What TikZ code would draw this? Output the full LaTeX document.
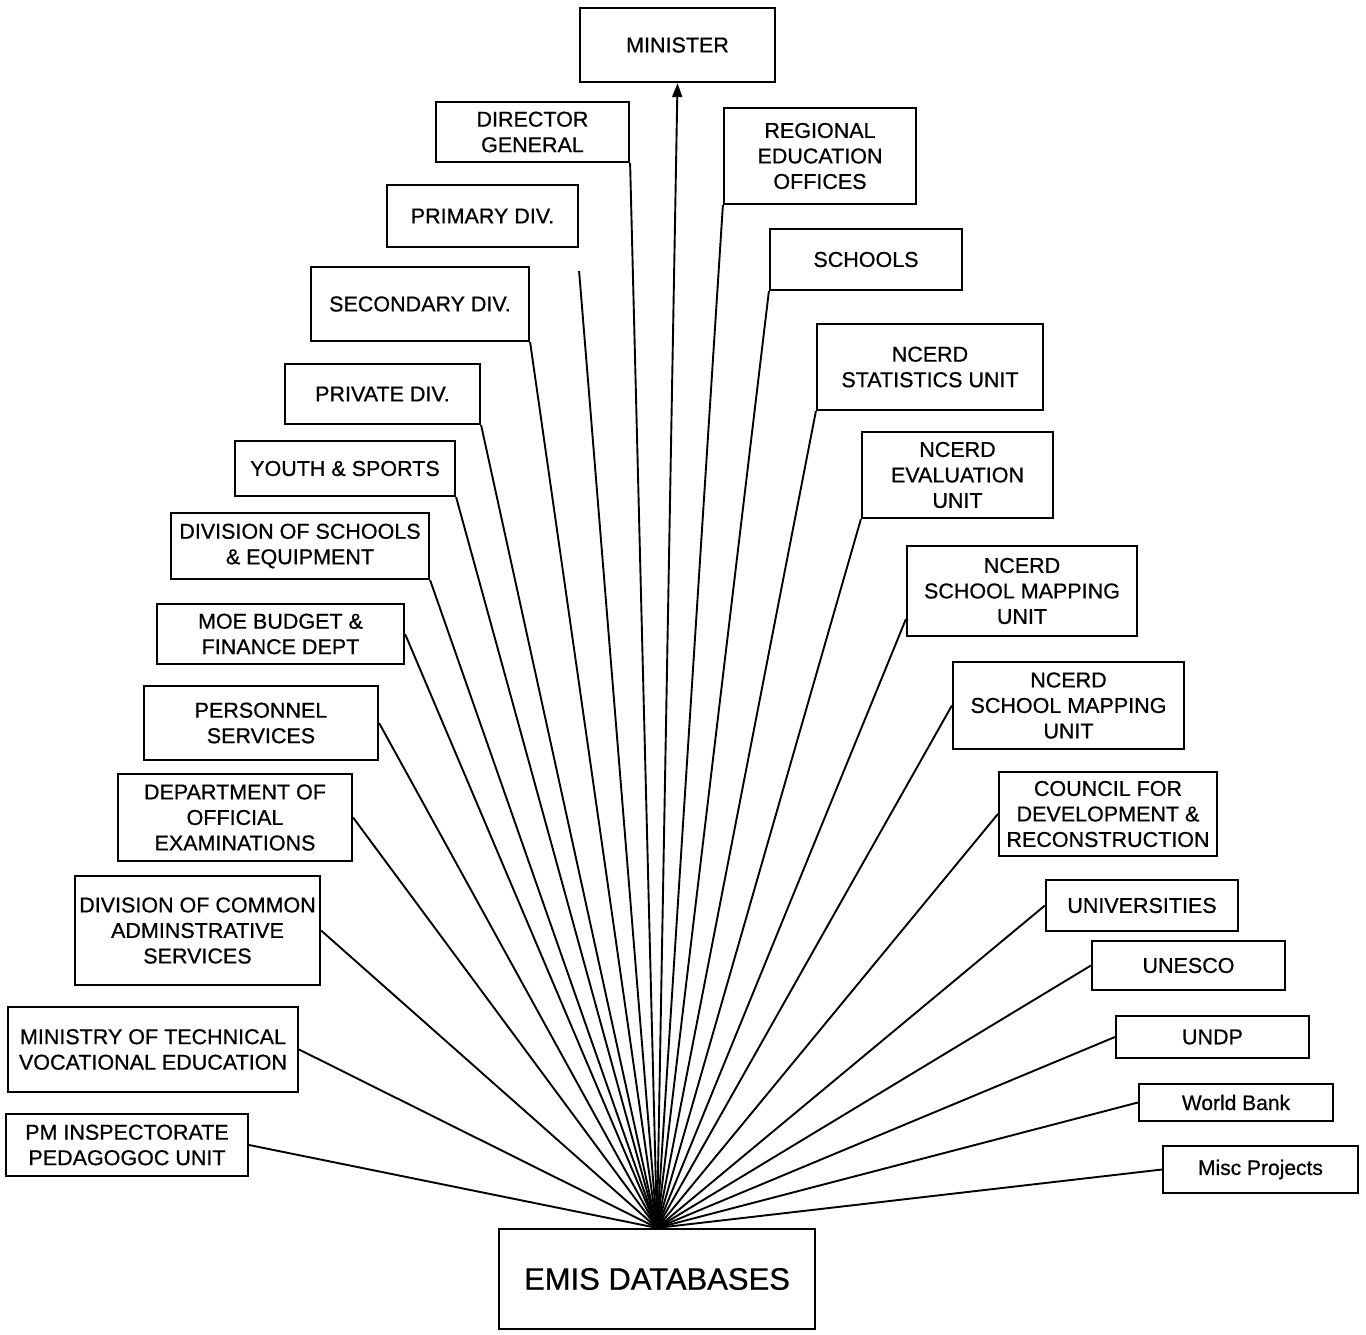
\documentclass[tikz,border=0pt]{standalone}
\usepackage{fontspec}
\setmainfont{Liberation Sans}[FakeBold=0.7]
\usetikzlibrary{calc,arrows.meta}
\begin{document}
\begin{tikzpicture}[x=1pt,y=-1pt,
  box/.style={draw,line width=2.2pt,inner sep=0pt,align=center,font=\fontsize{21.5}{25.5}\selectfont},
  small/.style={font=\fontsize{21}{25}\selectfont},
  big/.style={font=\fontsize{31}{36}\selectfont},
  link/.style={line width=1.9pt}]
\useasboundingbox (0,0) rectangle (1366,1334);
% top
\node[box,minimum width=195pt,minimum height=74pt] (minister) at (677.5,45) {MINISTER};
% left column
\node[box,minimum width=193pt,minimum height=60pt] (dg) at (532.5,132) {DIRECTOR\\GENERAL};
\node[box,minimum width=191pt,minimum height=62pt] (prim) at (482.5,216) {PRIMARY DIV.};
\node[box,minimum width=218pt,minimum height=74pt] (sec) at (420,304) {SECONDARY DIV.};
\node[box,minimum width=195pt,minimum height=60pt] (priv) at (382.5,394) {PRIVATE DIV.};
\node[box,minimum width=220pt,minimum height=55pt] (youth) at (345,468.5) {YOUTH \& SPORTS};
\node[box,minimum width=258pt,minimum height=66pt] (divsch) at (300,546) {DIVISION OF SCHOOLS\\\& EQUIPMENT};
\node[box,minimum width=247pt,minimum height=60pt] (moe) at (280.5,634) {MOE BUDGET \&\\FINANCE DEPT};
\node[box,minimum width=234pt,minimum height=74pt] (pers) at (261,723) {PERSONNEL\\SERVICES};
\node[box,minimum width=234pt,minimum height=87pt] (exam) at (235,817.5) {DEPARTMENT OF\\OFFICIAL\\EXAMINATIONS};
\node[box,minimum width=245pt,minimum height=109pt] (dcas) at (197.5,930.5) {DIVISION OF COMMON\\ADMINSTRATIVE\\SERVICES};
\node[box,minimum width=290pt,minimum height=85pt] (mtve) at (153,1049.5) {MINISTRY OF TECHNICAL\\VOCATIONAL EDUCATION};
\node[box,minimum width=242pt,minimum height=62pt] (pm) at (127,1145) {PM INSPECTORATE\\PEDAGOGOC UNIT};
% right column
\node[box,minimum width=192pt,minimum height=96pt] (reg) at (820,156) {REGIONAL\\EDUCATION\\OFFICES};
\node[box,minimum width=192pt,minimum height=61pt] (schools) at (866,259.5) {SCHOOLS};
\node[box,minimum width=226pt,minimum height=86pt] (stat) at (930,367) {NCERD\\STATISTICS UNIT};
\node[box,minimum width=191pt,minimum height=86pt] (eval) at (957.5,475) {NCERD\\EVALUATION\\UNIT};
\node[box,minimum width=230pt,minimum height=90pt] (smu1) at (1022,591) {NCERD\\SCHOOL MAPPING\\UNIT};
\node[box,minimum width=231pt,minimum height=87pt] (smu2) at (1068.5,705.5) {NCERD\\SCHOOL MAPPING\\UNIT};
\node[box,minimum width=218pt,minimum height=84pt] (council) at (1108,814) {COUNCIL FOR\\DEVELOPMENT \&\\RECONSTRUCTION};
\node[box,minimum width=192pt,minimum height=51pt] (univ) at (1142,905.5) {UNIVERSITIES};
\node[box,minimum width=193pt,minimum height=49pt] (unesco) at (1188.5,965.5) {UNESCO};
\node[box,minimum width=193pt,minimum height=42pt] (undp) at (1212.5,1037) {UNDP};
\node[box,small,minimum width=194pt,minimum height=37pt] (wb) at (1236,1102.5) {World Bank};
\node[box,small,minimum width=195pt,minimum height=47pt] (misc) at (1260.5,1169.5) {Misc Projects};
% bottom
\node[box,big,minimum width=316pt,minimum height=100pt] (emis) at (657,1279) {EMIS DATABASES};
% connectors
\draw[link,-{Triangle[length=14pt,width=10pt]}] (emis.north) -- (minister.south);
\draw[link] (emis.north) -- (dg.south east);
\draw[link] (emis.north) -- ($(prim.south east)+(0,23)$);
\draw[link] (emis.north) -- (sec.south east);
\draw[link] (emis.north) -- (priv.south east);
\draw[link] (emis.north) -- (youth.south east);
\draw[link] (emis.north) -- (divsch.south east);
\draw[link] (emis.north) -- (moe.east);
\draw[link] (emis.north) -- (pers.east);
\draw[link] (emis.north) -- (exam.east);
\draw[link] (emis.north) -- (dcas.east);
\draw[link] (emis.north) -- (mtve.east);
\draw[link] (emis.north) -- (pm.east);
\draw[link] (emis.north) -- (reg.south west);
\draw[link] (emis.north) -- (schools.south west);
\draw[link] (emis.north) -- (stat.south west);
\draw[link] (emis.north) -- (eval.south west);
\draw[link] (emis.north) -- ($(smu1.south west)+(0,-18)$);
\draw[link] (emis.north) -- (smu2.west);
\draw[link] (emis.north) -- (council.west);
\draw[link] (emis.north) -- (univ.west);
\draw[link] (emis.north) -- (unesco.west);
\draw[link] (emis.north) -- (undp.west);
\draw[link] (emis.north) -- (wb.west);
\draw[link] (emis.north) -- (misc.west);
\end{tikzpicture}
\end{document}
